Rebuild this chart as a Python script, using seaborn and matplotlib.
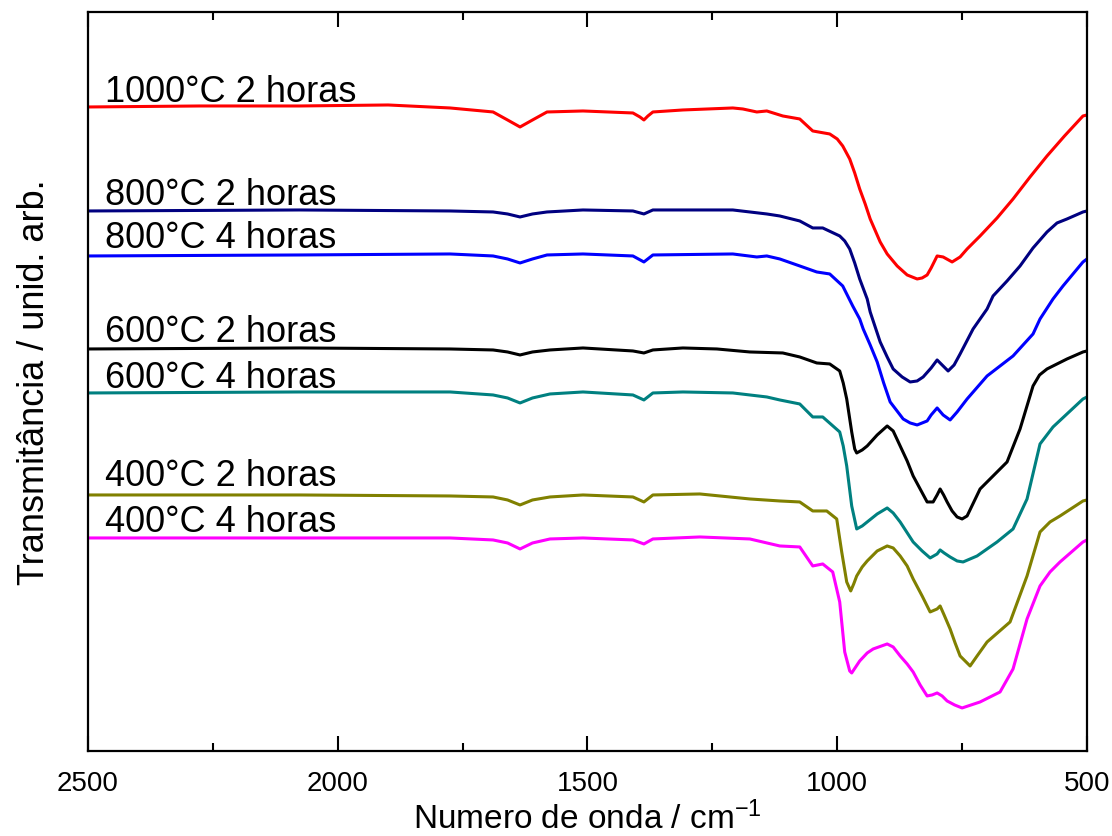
import matplotlib
matplotlib.use("Agg")
import matplotlib.pyplot as plt
import seaborn as sns
import pandas as pd
from matplotlib.ticker import MultipleLocator, NullLocator

# ---------------- data (wavenumber / cm-1, offset transmittance a.u.) ----------------
labels = ["1000°C 2 horas", "800°C 2 horas", "800°C 4 horas", "600°C 2 horas",
          "600°C 4 horas", "400°C 2 horas", "400°C 4 horas"]

wn_1000_2h = [2500, 2276, 2076, 1899, 1775, 1689, 1660, 1635, 1610, 1581, 1509, 1409, 1395,
              1387, 1379, 1369, 1309, 1209, 1189, 1161, 1141, 1109, 1075, 1049, 1015, 1000,
              989, 975, 965, 955, 944, 934, 914, 900, 880, 860, 840, 830, 820, 812, 800, 788,
              770, 754, 740, 714, 680, 648, 614, 580, 545, 508, 500]
t_1000_2h = [64.4, 64.5, 64.5, 64.6, 64.3, 63.9, 63.1, 62.4, 63.1, 63.9, 64.0, 63.8, 63.4,
             63.1, 63.5, 63.9, 64.1, 64.3, 64.2, 63.9, 64.0, 63.5, 63.2, 62.0, 61.7, 61.2,
             60.5, 59.2, 57.8, 56.2, 54.7, 53.2, 50.9, 49.7, 48.5, 47.6, 47.2, 47.3, 47.6,
             48.3, 49.5, 49.4, 48.9, 49.4, 50.2, 51.5, 53.3, 55.2, 57.4, 59.5, 61.5, 63.5,
             63.6]

wn_800_2h = [2500, 2076, 1775, 1689, 1660, 1635, 1610, 1581, 1509, 1409, 1387, 1369, 1309,
             1209, 1141, 1115, 1075, 1049, 1029, 995, 985, 975, 965, 955, 940, 934, 914, 900,
             888, 870, 854, 840, 828, 812, 800, 790, 778, 766, 754, 728, 700, 688, 660, 634,
             608, 580, 560, 540, 508, 500]
t_800_2h = [54.0, 54.1, 54.0, 53.9, 53.7, 53.4, 53.7, 53.9, 54.1, 54.0, 53.7, 54.1, 54.1,
            54.1, 53.7, 53.5, 53.0, 52.3, 52.3, 51.5, 51.0, 50.2, 48.8, 47.2, 45.2, 43.9,
            40.9, 39.4, 38.2, 37.4, 36.9, 37.0, 37.4, 38.3, 39.1, 38.6, 38.0, 38.6, 39.7,
            42.2, 44.2, 45.5, 47.0, 48.5, 50.3, 51.9, 52.8, 53.2, 53.9, 54.0]

wn_800_4h = [2500, 2076, 1775, 1689, 1660, 1635, 1610, 1581, 1509, 1409, 1387, 1369, 1209,
             1161, 1141, 1115, 1075, 1041, 1015, 989, 969, 955, 948, 934, 920, 907, 894, 868,
             854, 840, 820, 812, 800, 788, 774, 760, 740, 700, 648, 608, 594, 568, 548, 508,
             500]
t_800_4h = [49.5, 49.6, 49.7, 49.5, 49.2, 48.8, 49.2, 49.6, 49.7, 49.5, 48.9, 49.6, 49.7,
            49.4, 49.5, 49.2, 48.5, 47.9, 47.7, 46.5, 44.5, 43.2, 42.2, 40.6, 38.9, 36.8,
            34.9, 33.2, 32.8, 32.6, 33.0, 33.6, 34.3, 33.6, 33.1, 33.9, 35.2, 37.5, 39.5,
            41.7, 43.2, 45.2, 46.5, 48.9, 49.2]

wn_600_2h = [2500, 2076, 1775, 1689, 1660, 1635, 1610, 1575, 1509, 1409, 1387, 1369, 1309,
             1241, 1175, 1109, 1075, 1041, 1015, 995, 988, 981, 971, 965, 961, 950, 940, 920,
             900, 888, 874, 860, 848, 834, 820, 808, 800, 794, 787, 780, 770, 760, 750, 740,
             714, 660, 634, 608, 595, 580, 540, 508, 500]
t_600_2h = [40.2, 40.3, 40.2, 40.1, 39.9, 39.6, 39.9, 40.1, 40.3, 40.0, 39.8, 40.1, 40.3,
            40.2, 39.9, 39.8, 39.4, 38.8, 38.7, 38.0, 36.8, 35.2, 31.9, 30.2, 29.8, 30.1,
            30.5, 31.6, 32.5, 32.0, 30.5, 29.0, 27.5, 26.2, 24.9, 24.9, 25.6, 26.2, 25.6,
            24.9, 24.0, 23.4, 23.2, 23.5, 26.2, 28.9, 32.2, 36.5, 37.6, 38.2, 39.2, 39.9,
            40.0]

wn_600_4h = [2500, 2076, 1775, 1689, 1660, 1635, 1610, 1575, 1509, 1409, 1387, 1369, 1309,
             1209, 1175, 1141, 1115, 1075, 1049, 1029, 995, 988, 981, 971, 961, 950, 940, 920,
             900, 888, 874, 848, 830, 814, 800, 794, 786, 774, 760, 748, 720, 680, 648, 620,
             594, 568, 508, 500]
t_600_4h = [35.8, 35.9, 35.9, 35.6, 35.3, 34.8, 35.3, 35.7, 35.9, 35.6, 35.1, 35.8, 35.9,
            35.8, 35.6, 35.4, 35.1, 34.7, 33.4, 33.4, 31.9, 30.5, 28.5, 24.5, 22.2, 22.5,
            22.9, 23.7, 24.3, 23.8, 22.9, 20.9, 20.0, 19.3, 19.7, 20.1, 19.8, 19.4, 19.0,
            18.9, 19.5, 20.9, 22.2, 25.2, 30.7, 32.4, 35.2, 35.4]

wn_400_2h = [2500, 2076, 1775, 1689, 1660, 1635, 1610, 1575, 1509, 1409, 1387, 1369, 1275,
             1175, 1115, 1075, 1049, 1021, 1001, 991, 981, 973, 967, 961, 950, 940, 920, 900,
             888, 874, 860, 848, 830, 814, 800, 794, 786, 774, 764, 754, 734, 720, 700, 654,
             620, 594, 574, 554, 508, 500]
t_400_2h = [25.6, 25.6, 25.5, 25.4, 25.1, 24.6, 25.1, 25.4, 25.6, 25.4, 24.9, 25.6, 25.7,
            25.2, 25.0, 24.9, 24.0, 24.0, 23.2, 19.9, 16.9, 16.0, 16.7, 17.5, 18.4, 19.0,
            20.0, 20.5, 20.3, 19.5, 18.5, 17.2, 15.5, 13.9, 14.2, 14.5, 13.6, 12.2, 10.8,
            9.5, 8.5, 9.5, 10.9, 12.9, 17.5, 21.9, 22.9, 23.5, 25.0, 25.1]

wn_400_4h = [2500, 2076, 1775, 1689, 1660, 1635, 1610, 1575, 1509, 1409, 1387, 1369, 1275,
             1175, 1115, 1075, 1049, 1029, 1009, 995, 985, 975, 971, 963, 955, 940, 928, 900,
             888, 874, 860, 848, 834, 820, 810, 800, 790, 780, 765, 750, 714, 674, 648, 620,
             594, 574, 554, 508, 500]
t_400_4h = [21.3, 21.3, 21.3, 21.1, 20.8, 20.2, 20.8, 21.2, 21.3, 21.1, 20.7, 21.2, 21.4,
            21.2, 20.5, 20.4, 18.5, 18.7, 17.9, 14.9, 9.9, 8.0, 7.8, 8.4, 9.0, 9.8, 10.2,
            10.7, 10.4, 9.5, 8.7, 7.9, 6.6, 5.5, 5.6, 5.8, 5.5, 5.0, 4.6, 4.3, 4.9, 5.9, 8.2,
            13.2, 16.5, 17.9, 18.9, 20.9, 21.1]

x_ticks = [2500, 2000, 1500, 1000, 500]
# ---------------------------------------------------------------------------------------

series_wn = [wn_1000_2h, wn_800_2h, wn_800_4h, wn_600_2h, wn_600_4h, wn_400_2h, wn_400_4h]
series_t = [t_1000_2h, t_800_2h, t_800_4h, t_600_2h, t_600_4h, t_400_2h, t_400_4h]

frames = []
for lab, w, t in zip(labels, series_wn, series_t):
    frames.append(pd.DataFrame({"wn": w, "t": t, "amostra": lab}))
df = pd.concat(frames, ignore_index=True)

colors = ["#FF0000", "#000080", "#0000FF", "#000000", "#008080", "#808000", "#FF00FF"]
palette = dict(zip(labels, colors))

sns.set_theme(style="white")
plt.rcParams["font.family"] = ["Liberation Sans", "DejaVu Sans"]
plt.rcParams["mathtext.fontset"] = "custom"
plt.rcParams["mathtext.rm"] = "Liberation Sans"
plt.rcParams["mathtext.it"] = "Liberation Sans:italic"
plt.rcParams["mathtext.bf"] = "Liberation Sans:bold"
plt.rcParams["text.color"] = "black"
plt.rcParams["axes.labelcolor"] = "black"
plt.rcParams["xtick.color"] = "black"
plt.rcParams["ytick.color"] = "black"
plt.rcParams["lines.solid_joinstyle"] = "round"
plt.rcParams["lines.solid_capstyle"] = "round"

fig = plt.figure(figsize=(11.12, 8.37), dpi=100)
ax = fig.add_axes([0.0791, 0.1016, 0.8984, 0.8829])

sns.lineplot(data=df, x="wn", y="t", hue="amostra", palette=palette, estimator=None,
             legend=False, linewidth=2.2, ax=ax)

ax.set_xlim(2500, 500)
ax.set_ylim(0, 73.9)

# label positions (x in cm-1, baseline y in a.u.)
label_y = [65.0, 54.7, 50.4, 41.0, 36.4, 26.6, 22.0]
for lab, ly in zip(labels, label_y):
    ax.text(2466, ly, lab, fontsize=26, va="baseline", ha="left", color="black")

ax.xaxis.set_major_locator(MultipleLocator(500))
ax.xaxis.set_minor_locator(MultipleLocator(250))
ax.set_xticks(x_ticks)
ax.set_xticklabels([str(v) for v in x_ticks])
ax.yaxis.set_major_locator(NullLocator())
ax.yaxis.set_minor_locator(NullLocator())
ax.tick_params(axis="x", which="major", direction="in", length=11, width=1.5,
               top=True, bottom=True, labelsize=20, pad=14, colors="black")
ax.tick_params(axis="x", which="minor", direction="in", length=6, width=1.5,
               top=True, bottom=True)
for sp in ax.spines.values():
    sp.set_visible(True)
    sp.set_color("black")
    sp.set_linewidth(1.6)

ax.set_xlabel("Numero de onda / cm$^{-1}$", fontsize=24, labelpad=3)
ax.set_ylabel("Transmitância / unid. arb.", fontsize=26, labelpad=26)

fig.savefig("out.png", dpi=100, facecolor="white")
